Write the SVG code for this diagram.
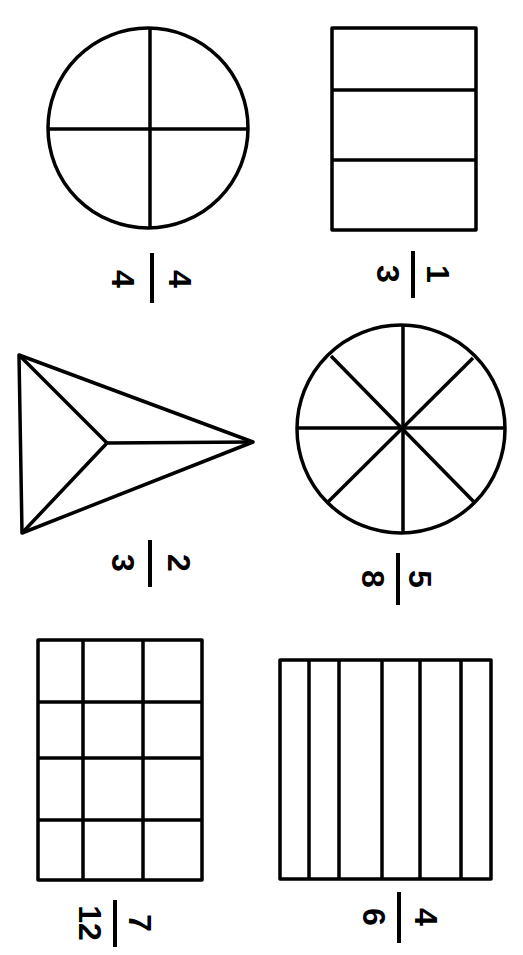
<svg xmlns="http://www.w3.org/2000/svg" width="523" height="955" viewBox="0 0 523 955">
<style>
.s{fill:none;stroke:#000;stroke-width:3.5;stroke-linejoin:round}
.b{stroke:#000;stroke-width:4}
.t{font-family:"Liberation Sans",Arial,sans-serif;font-size:32px;font-weight:bold;fill:#000;text-anchor:middle}
</style>
<rect width="523" height="955" fill="#fff"/>
<g id="rect-thirds">
<rect class="s" x="332" y="28" width="144" height="202"/>
<line class="s" x1="332" y1="90" x2="476" y2="90"/>
<line class="s" x1="332" y1="160" x2="476" y2="160"/>
</g>
<g id="circle-quarters">
<circle class="s" cx="148" cy="128" r="100"/>
<line class="s" x1="48" y1="129" x2="248" y2="129"/>
<line class="s" x1="150" y1="28" x2="150" y2="228"/>
</g>
<g id="frac-1-3">
<line class="b" x1="413" y1="251" x2="413" y2="298"/>
<text class="t" transform="translate(438,274) rotate(90)" y="11.5">1</text>
<text class="t" transform="translate(388,274) rotate(90)" y="11.5">3</text>
</g>
<g id="frac-4-4">
<line class="b" x1="152" y1="253" x2="152" y2="303"/>
<text class="t" transform="translate(180,279) rotate(90)" y="11.5">4</text>
<text class="t" transform="translate(123,279) rotate(90)" y="11.5">4</text>
</g>
<g id="triangle-thirds">
<polygon class="s" points="19,355 22,533 253,442"/>
<polyline class="s" points="19,355 107,443 22,533"/>
<line class="s" x1="107" y1="443" x2="253" y2="442"/>
</g>
<g id="circle-eighths">
<circle class="s" cx="401" cy="429" r="104"/>
<line class="s" x1="297" y1="428" x2="505" y2="428"/>
<line class="s" x1="403" y1="325" x2="403" y2="533"/>
<line class="s" x1="331" y1="356" x2="475" y2="503"/>
<line class="s" x1="473" y1="358" x2="328" y2="502"/>
</g>
<g id="frac-2-3">
<line class="b" x1="150" y1="540" x2="150" y2="587"/>
<text class="t" transform="translate(179,563) rotate(90)" y="11.5">2</text>
<text class="t" transform="translate(123,563) rotate(90)" y="11.5">3</text>
</g>
<g id="frac-5-8">
<line class="b" x1="398" y1="553" x2="398" y2="605"/>
<text class="t" transform="translate(420,579) rotate(90)" y="11.5">5</text>
<text class="t" transform="translate(373,579) rotate(90)" y="11.5">8</text>
</g>
<g id="grid-twelfths">
<rect class="s" x="38" y="640" width="164" height="240"/>
<line class="s" x1="83" y1="640" x2="83" y2="880"/>
<line class="s" x1="143" y1="640" x2="143" y2="880"/>
<line class="s" x1="38" y1="702" x2="202" y2="702"/>
<line class="s" x1="38" y1="758" x2="202" y2="758"/>
<line class="s" x1="38" y1="820" x2="202" y2="820"/>
</g>
<g id="rect-sixths">
<rect class="s" x="280" y="660" width="211" height="219"/>
<line class="s" x1="309" y1="660" x2="309" y2="879"/>
<line class="s" x1="339" y1="660" x2="339" y2="879"/>
<line class="s" x1="382" y1="660" x2="382" y2="879"/>
<line class="s" x1="420" y1="660" x2="420" y2="879"/>
<line class="s" x1="461" y1="660" x2="461" y2="879"/>
</g>
<g id="frac-7-12">
<line class="b" x1="115" y1="900" x2="115" y2="947"/>
<text class="t" transform="translate(140,923) rotate(90)" y="11.5">7</text>
<text class="t" transform="translate(90,923) rotate(90)" y="11.5">12</text>
</g>
<g id="frac-4-6">
<line class="b" x1="399" y1="892" x2="399" y2="943"/>
<text class="t" transform="translate(426,917) rotate(90)" y="11.5">4</text>
<text class="t" transform="translate(374,917) rotate(90)" y="11.5">6</text>
</g>
</svg>
